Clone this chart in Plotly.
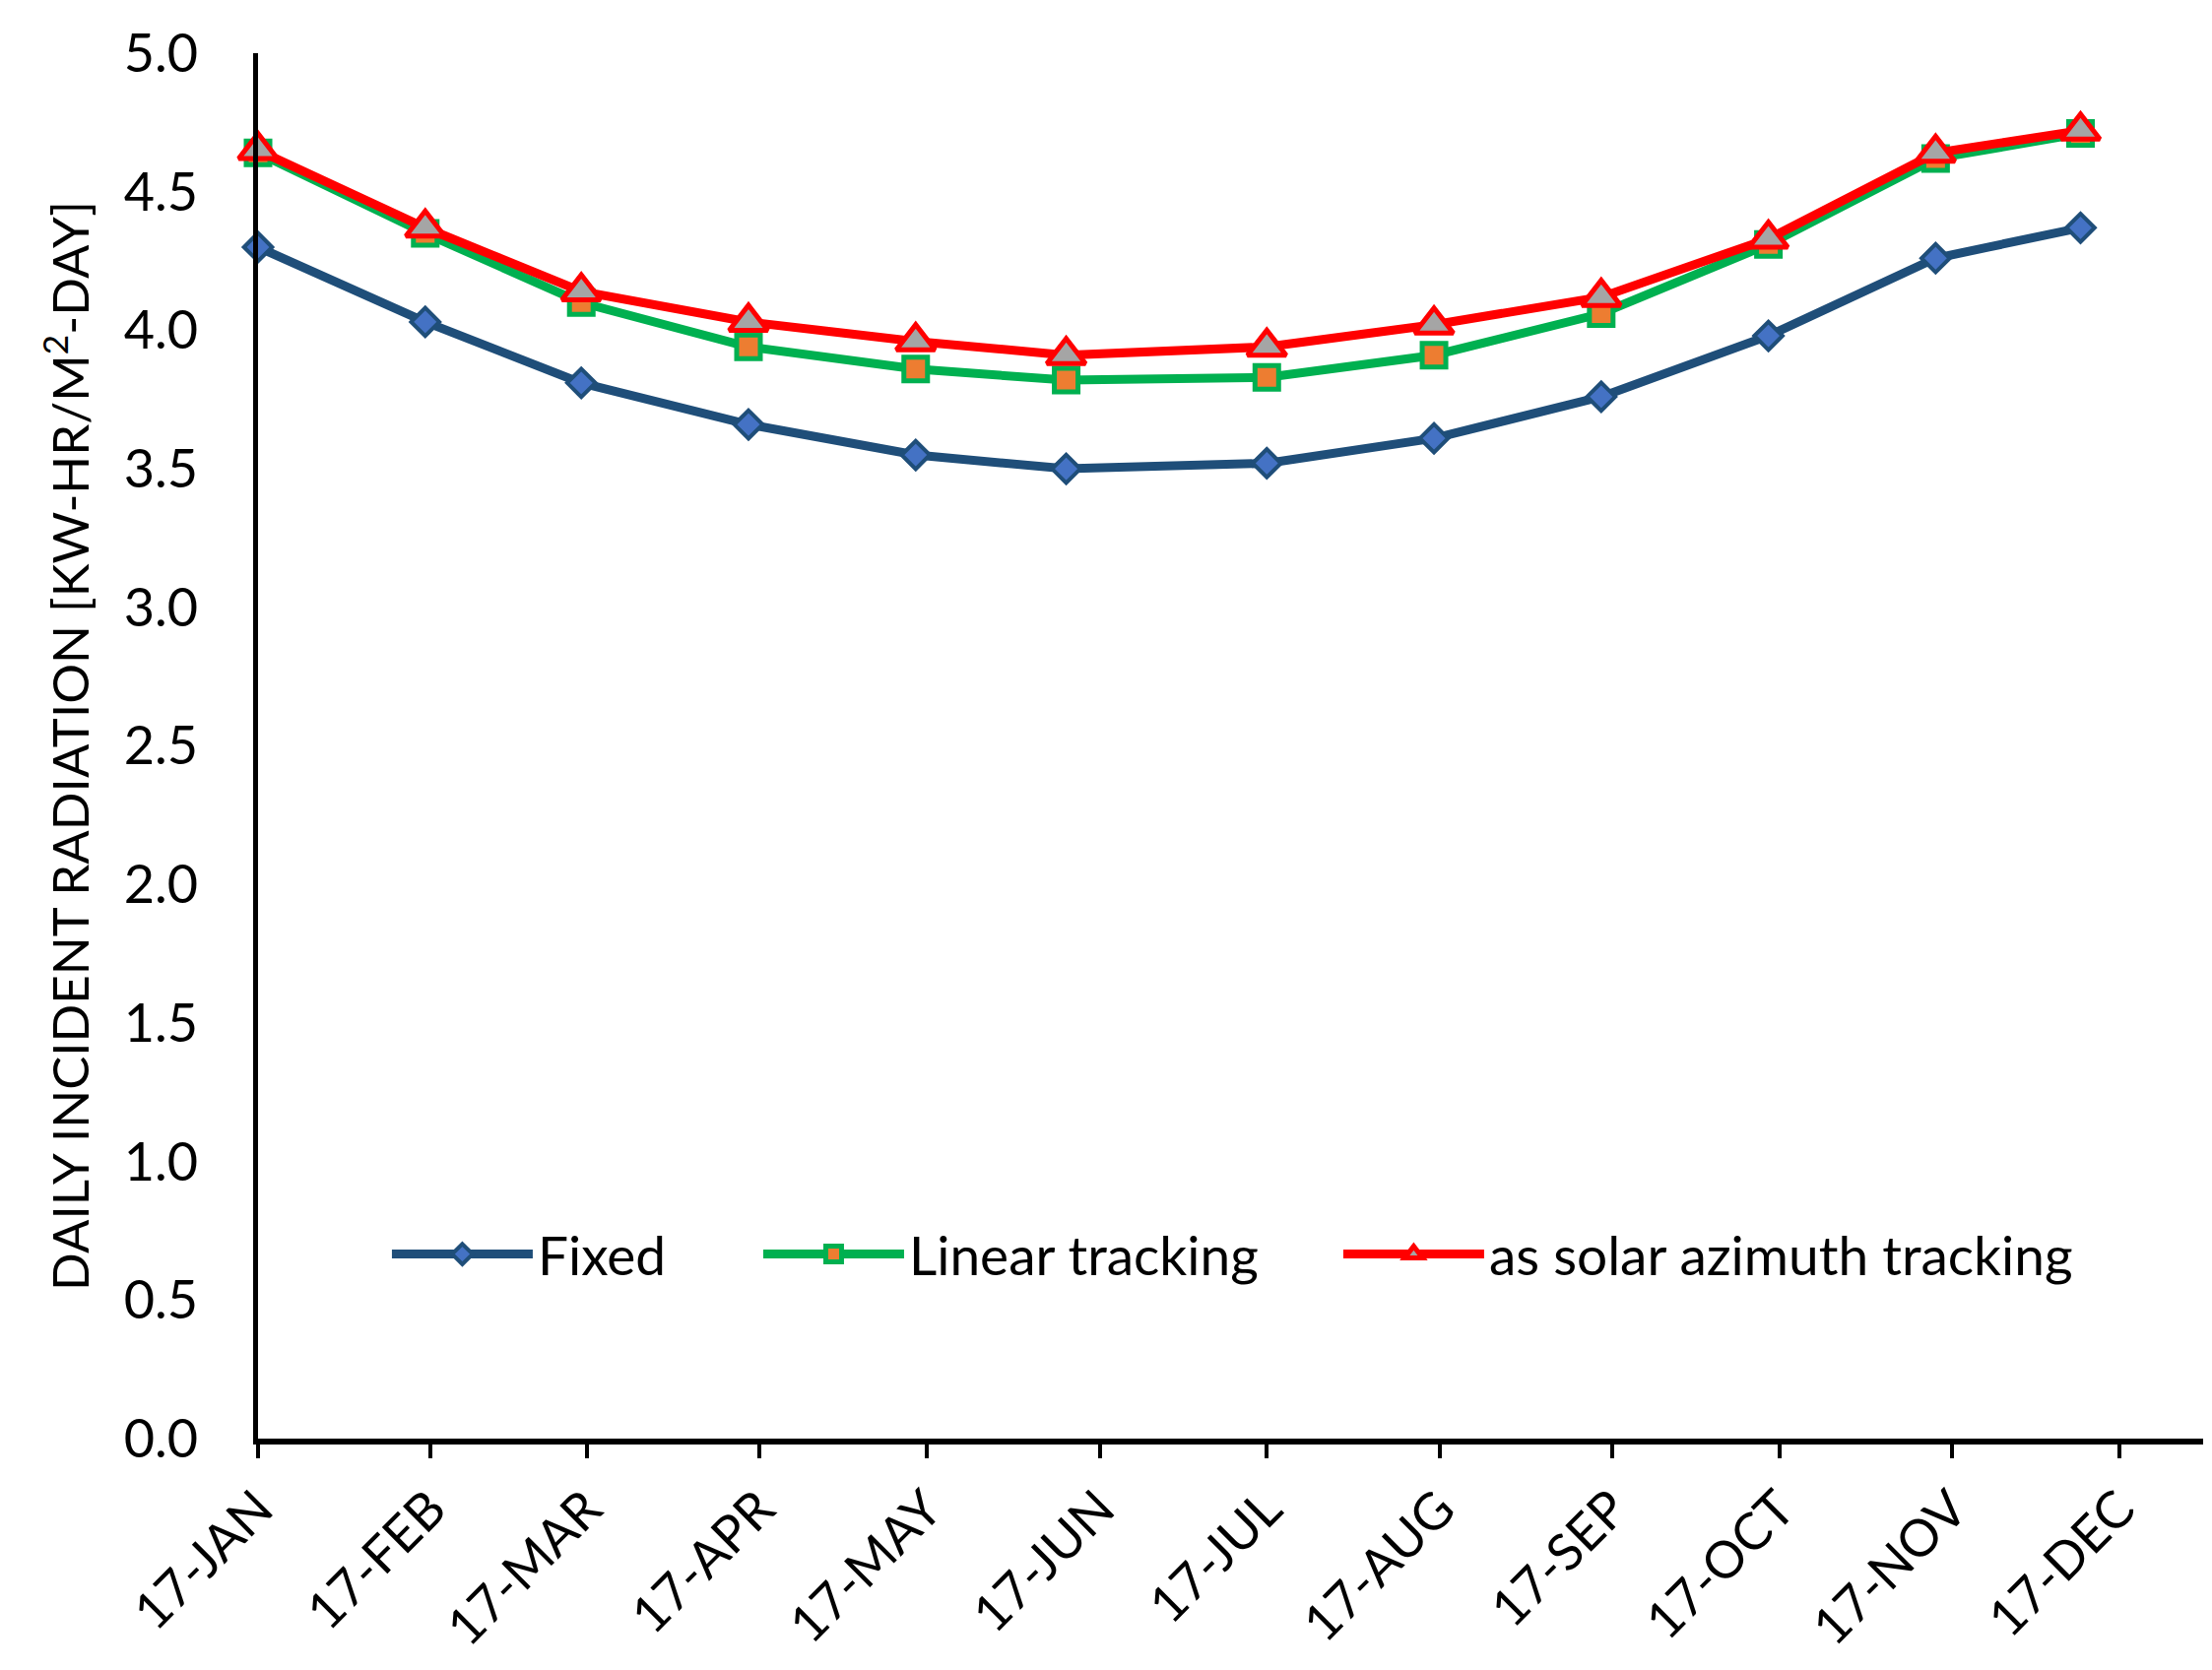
import plotly.graph_objects as go

# Data
dates = ["2017-01-17", "2017-02-16", "2017-03-16", "2017-04-15", "2017-05-15", "2017-06-11",
         "2017-07-17", "2017-08-16", "2017-09-15", "2017-10-15", "2017-11-14", "2017-12-10"]
fixed = [4.30, 4.03, 3.81, 3.66, 3.55, 3.50, 3.52, 3.61, 3.76, 3.98, 4.26, 4.37]
linear = [4.64, 4.35, 4.10, 3.94, 3.86, 3.82, 3.83, 3.91, 4.06, 4.31, 4.62, 4.71]
azimuth = [4.65, 4.37, 4.14, 4.03, 3.96, 3.91, 3.94, 4.02, 4.12, 4.33, 4.64, 4.72]

tick_dates = ["2017-01-17", "2017-02-17", "2017-03-17", "2017-04-17", "2017-05-17", "2017-06-17",
              "2017-07-17", "2017-08-17", "2017-09-17", "2017-10-17", "2017-11-17", "2017-12-17"]
tick_labels = ["17-JAN", "17-FEB", "17-MAR", "17-APR", "17-MAY", "17-JUN",
               "17-JUL", "17-AUG", "17-SEP", "17-OCT", "17-NOV", "17-DEC"]

FONT = "Lato"

fig = go.Figure()
fig.add_trace(go.Scatter(
    x=dates, y=fixed, name="Fixed", mode="lines+markers", legend="legend",
    showlegend=True, cliponaxis=False,
    line=dict(color="#1F4E79", width=9),
    marker=dict(symbol="diamond", size=22, color="#4472C4",
                line=dict(color="#1F4E79", width=4)),
))
fig.add_trace(go.Scatter(
    x=dates, y=linear, name="Linear tracking", mode="lines+markers", legend="legend2",
    showlegend=True, cliponaxis=False,
    line=dict(color="#00B050", width=9),
    marker=dict(symbol="square", size=24, color="#ED7D31",
                line=dict(color="#00B050", width=5)),
))
fig.add_trace(go.Scatter(
    x=dates, y=azimuth, name="as solar azimuth tracking", mode="lines+markers", legend="legend3",
    showlegend=True, cliponaxis=False,
    line=dict(color="#FF0000", width=9),
    marker=dict(symbol="triangle-up", size=34, color="#A5A5A5",
                line=dict(color="#FF0000", width=5)),
))

leg_common = dict(orientation="h", y=0.133, xanchor="left", yanchor="middle",
                  font=dict(family=FONT, size=55, color="black"),
                  itemwidth=143, bgcolor="rgba(0,0,0,0)")

fig.update_layout(
    width=2230, height=1680,
    margin=dict(l=254, r=1, t=46, b=227),
    paper_bgcolor="white", plot_bgcolor="white",
    font=dict(family=FONT, color="black", size=48),
    showlegend=True,
    legend=dict(x=0.0663, **leg_common),
    legend2=dict(x=0.2572, **leg_common),
    legend3=dict(x=0.5554, **leg_common),
    xaxis=dict(
        type="date", range=["2017-01-17", "2018-01-01"], automargin=False,
        tickvals=tick_dates, ticktext=tick_labels, tickangle=-45,
        tickfont=dict(family=FONT, size=52, color="black"),
        showline=True, linecolor="black", linewidth=6,
        ticks="outside", ticklen=14, tickwidth=4, tickcolor="black",
        showgrid=False, zeroline=False,
    ),
    yaxis=dict(
        range=[0, 5], dtick=0.5, tick0=0, tickformat=".1f", automargin=False,
        tickfont=dict(family=FONT, size=54, color="black"),
        showline=True, linecolor="black", linewidth=5,
        ticks="", showgrid=False, zeroline=False,
        ticklabelstandoff=45,
        title=dict(text="DAILY INCIDENT RADIATION [KW-HR/M<sup>2</sup>-DAY]",
                   font=dict(family=FONT, size=51, color="black"), standoff=20),
    ),
)

fig.write_html("out.html")
